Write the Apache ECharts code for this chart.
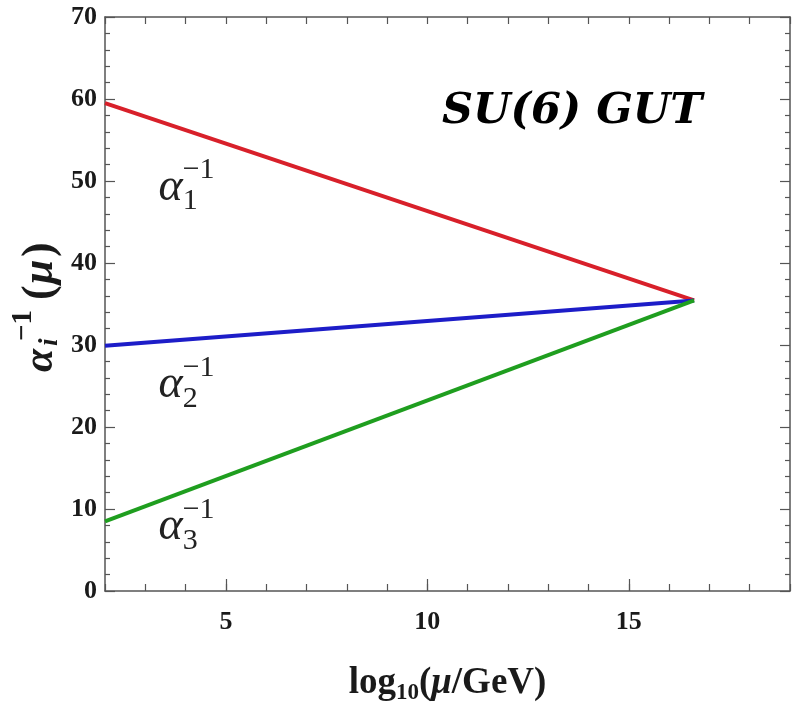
<!DOCTYPE html>
<html><head><meta charset="utf-8">
<script src="https://cdn.jsdelivr.net/npm/echarts@6/dist/echarts.min.js"></script>
<style>html,body{margin:0;padding:0;background:#fff}#c{width:792px;height:710px}</style>
</head><body><div id="c"></div>
<script>
// ---- data ----
const xRange = [2, 19];
const yRange = [0, 70];
const xTickLabels = [5, 10, 15];
const yTickLabels = [0, 10, 20, 30, 40, 50, 60, 70];
const logMu = [2.0, 16.62];            // log10(mu/GeV) endpoints
const alpha1Inv = [59.5, 35.43];
const alpha2Inv = [29.9, 35.43];
const alpha3Inv = [8.5, 35.43];
const seriesColors = ['#d8202a', '#1d1dc8', '#1f9e1f'];
const labelSubs = ['1', '2', '3'];
const labelAnchorX = [3.63, 3.63, 3.63];
const labelAnchorY = [49.2, 25.1, 7.8];
const titleText = 'SU(6) GUT';

const axisColor = '#555';
const serif = '"Liberation Serif", "Times New Roman", serif';
const tickFont = {fontFamily: serif, fontWeight: 'bold', fontSize: 26, color: '#1a1a1a'};

function pts(ys) { return logMu.map((x, i) => [x, ys[i]]); }

const chart = echarts.init(document.getElementById('c'), null, {renderer: 'canvas'});
const baseX = {type: 'value', min: xRange[0], max: xRange[1], splitLine: {show: false}};
const baseY = {type: 'value', min: yRange[0], max: yRange[1], interval: 10, splitLine: {show: false}};

chart.setOption({
  animation: false,
  backgroundColor: '#fff',
  grid: {left: 105, right: 2, top: 17, bottom: 118},
  xAxis: [
    Object.assign({}, baseX, {
      position: 'bottom', interval: 1,
      axisLine: {show: true, lineStyle: {color: axisColor, width: 1.5}},
      axisTick: {show: true, inside: true, length: 7, lineStyle: {color: axisColor, width: 1.2}},
      axisLabel: {show: false}
    }),
    Object.assign({}, baseX, {
      position: 'bottom', interval: 1,
      axisLine: {show: false},
      axisTick: {show: true, inside: true, length: 12, customValues: xTickLabels, lineStyle: {color: axisColor, width: 1.2}},
      axisLabel: Object.assign({show: true, margin: 18, customValues: xTickLabels}, tickFont),
      name: '{a|log}{s|10}{a|(}{m|μ}{a|/GeV)}',
      nameLocation: 'middle', nameGap: 70,
      nameTextStyle: {
        rich: {
          a: {fontFamily: serif, fontWeight: 'bold', fontSize: 37, lineHeight: 44, color: '#1a1a1a'},
          m: {fontFamily: serif, fontWeight: 'bold', fontStyle: 'italic', fontSize: 37, lineHeight: 44, color: '#1a1a1a'},
          s: {fontFamily: serif, fontWeight: 'bold', fontSize: 23, lineHeight: 22, verticalAlign: 'bottom', color: '#1a1a1a'}
        }
      }
    }),
    Object.assign({}, baseX, {
      position: 'top', interval: 1,
      axisLine: {show: true, lineStyle: {color: axisColor, width: 1.5}},
      axisTick: {show: true, inside: true, length: 7, lineStyle: {color: axisColor, width: 1.2}},
      axisLabel: {show: false}
    })
  ],
  yAxis: [
    Object.assign({}, baseY, {
      position: 'left',
      axisLine: {show: true, lineStyle: {color: axisColor, width: 1.5}},
      axisTick: {show: true, inside: true, length: 10, lineStyle: {color: axisColor, width: 1.2}},
      minorTick: {show: true, splitNumber: 5, length: 5, lineStyle: {color: axisColor, width: 1.2}},
      axisLabel: Object.assign({show: true, margin: 8}, tickFont)
    }),
    Object.assign({}, baseY, {
      position: 'right',
      axisLine: {show: true, lineStyle: {color: axisColor, width: 1.5}},
      axisTick: {show: true, inside: true, length: 10, lineStyle: {color: axisColor, width: 1.2}},
      minorTick: {show: true, splitNumber: 5, length: 5, lineStyle: {color: axisColor, width: 1.2}},
      axisLabel: {show: false}
    })
  ],
  series: [alpha1Inv, alpha2Inv, alpha3Inv].map((ys, i) => ({
    type: 'line', xAxisIndex: 0, yAxisIndex: 0,
    data: pts(ys), showSymbol: false, symbol: 'none',
    lineStyle: {color: seriesColors[i], width: 4}, z: 3
  }))
});

// ---- annotations ----
const g = [];
for (let i = 0; i < 3; i++) {
  const p = chart.convertToPixel({gridIndex: 0}, [labelAnchorX[i], labelAnchorY[i]]);
  g.push({type: 'text', x: p[0], y: p[1], style: {text: 'α', font: 'italic 46px ' + serif, fill: '#222', textAlign: 'center', textVerticalAlign: 'middle'}});
  g.push({type: 'text', x: p[0] + 12, y: p[1] + 14, style: {text: labelSubs[i], font: '30px ' + serif, fill: '#222', textAlign: 'left', textVerticalAlign: 'middle'}});
  g.push({type: 'text', x: p[0] + 12, y: p[1] - 17, style: {text: '−1', font: '30px ' + serif, fill: '#222', textAlign: 'left', textVerticalAlign: 'middle'}});
}
// y axis title (rotated)
g.push({
  type: 'group', x: 41, y: 372, rotation: Math.PI / 2,
  children: [
    {type: 'text', x: 0, y: 0, style: {text: 'α', font: 'italic bold 42px ' + serif, fill: '#1a1a1a', textAlign: 'left', textVerticalAlign: 'middle'}},
    {type: 'text', x: 26, y: 9, style: {text: 'i', font: 'italic bold 27px ' + serif, fill: '#1a1a1a', textAlign: 'left', textVerticalAlign: 'middle'}},
    {type: 'text', x: 31, y: -17, style: {text: '−1', font: 'bold 29px ' + serif, fill: '#1a1a1a', textAlign: 'left', textVerticalAlign: 'middle'}},
    {type: 'text', x: 72, y: 0, style: {text: '(', font: 'bold 44px ' + serif, fill: '#1a1a1a', textAlign: 'left', textVerticalAlign: 'middle'}},
    {type: 'text', x: 88, y: 0, style: {text: 'μ', font: 'italic bold 44px ' + serif, fill: '#1a1a1a', textAlign: 'left', textVerticalAlign: 'middle'}},
    {type: 'text', x: 115, y: 0, style: {text: ')', font: 'bold 44px ' + serif, fill: '#1a1a1a', textAlign: 'left', textVerticalAlign: 'middle'}}
  ]
});
// title
g.push({type: 'text', x: 442, y: 112, style: {text: titleText, font: 'italic bold 43px "DejaVu Serif", serif', fill: '#000', textAlign: 'left', textVerticalAlign: 'middle'}});
chart.setOption({graphic: g});
</script>
</body></html>
